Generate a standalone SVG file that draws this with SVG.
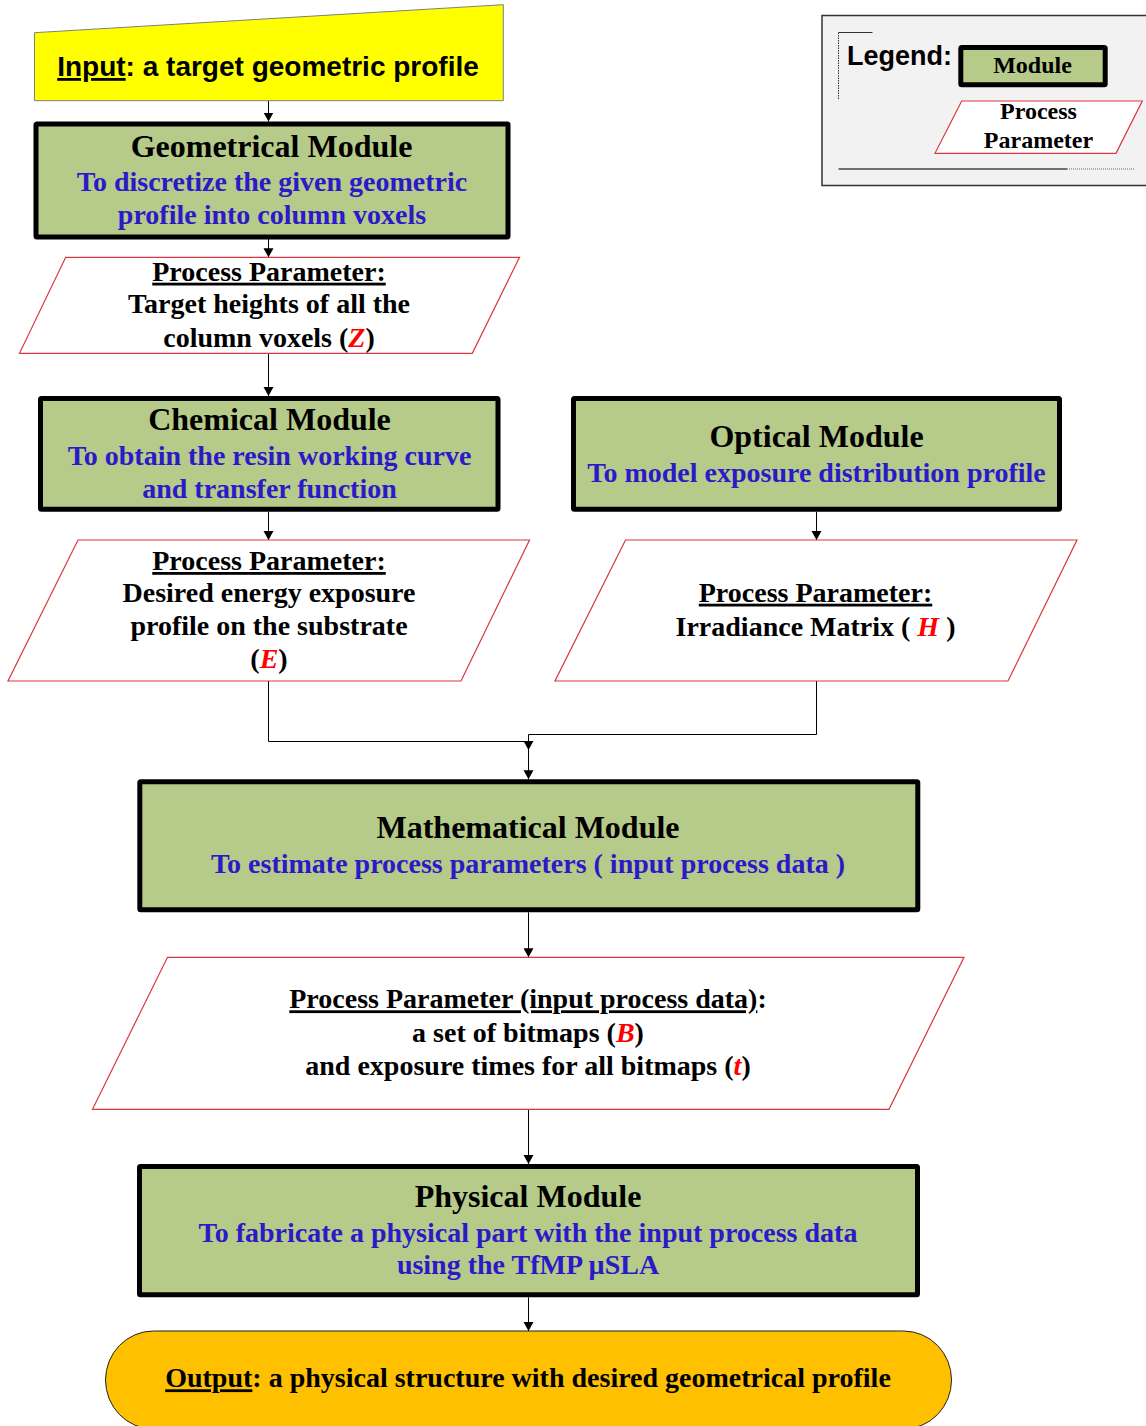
<svg xmlns="http://www.w3.org/2000/svg" width="1146" height="1426" viewBox="0 0 1146 1426">
  <defs>
    <marker id="arr" markerWidth="11" markerHeight="11" refX="9" refY="5" orient="auto" markerUnits="userSpaceOnUse">
      <path d="M0,0 L9,5 L0,10 z" fill="#000"/>
    </marker>
    <style>
      .module { fill: #b6ca8a; stroke: #000; stroke-width: 5; }
      .param { fill: #fff; stroke: #d9363e; stroke-width: 1.2; }
      .title { font-family: "Liberation Serif", "Times New Roman", serif; font-weight: bold; font-size: 32px; fill: #000; text-anchor: middle; }
      .desc { font-family: "Liberation Serif", "Times New Roman", serif; font-weight: bold; font-size: 28px; fill: #2a1ac8; text-anchor: middle; }
      .ptext { font-family: "Liberation Serif", "Times New Roman", serif; font-weight: bold; font-size: 28px; fill: #000; text-anchor: middle; }
      .var { fill: #f00; font-style: italic; }
      .ul { text-decoration: underline; }
      .conn { fill: none; stroke: #000; stroke-width: 1; }
    </style>
  </defs>
  <rect width="1146" height="1426" fill="#fff"/>

  <!-- legend -->
  <g id="legend">
    <rect x="822" y="15.5" width="330" height="170" fill="#f2f2f2" stroke="#333" stroke-width="1.5"/>
    <path d="M838.5,32.5 H872.5" stroke="#333" stroke-width="1"/>
    <path d="M838.5,32.5 V100" stroke="#333" stroke-width="1" stroke-dasharray="1.5,1"/>
    <text x="847" y="65" font-family="Liberation Sans, Arial, sans-serif" font-weight="bold" font-size="27px" fill="#000">Legend:</text>
    <rect class="module" x="960.8" y="47.5" width="144.4" height="37.3" rx="1"/>
    <text x="1032.5" y="72.7" font-family="Liberation Serif, Times New Roman, serif" font-weight="bold" font-size="24px" text-anchor="middle" fill="#000">Module</text>
    <polygon class="param" points="961.7,101 1142.3,101 1116,153.3 935,153.3"/>
    <text x="1038.5" y="119.3" font-family="Liberation Serif, Times New Roman, serif" font-weight="bold" font-size="24px" text-anchor="middle" fill="#000">Process</text>
    <text x="1038.5" y="148.3" font-family="Liberation Serif, Times New Roman, serif" font-weight="bold" font-size="24px" text-anchor="middle" fill="#000">Parameter</text>
    <path d="M838.5,169 H1067" stroke="#444" stroke-width="1.5"/>
    <path d="M1067,169 H1135" stroke="#666" stroke-width="1" stroke-dasharray="1,1"/>
  </g>

  <!-- connectors -->
  <g id="connectors">
    <path class="conn" d="M268.5,101 V121.5" marker-end="url(#arr)"/>
    <path class="conn" d="M268.5,239 V257.3" marker-end="url(#arr)"/>
    <path class="conn" d="M268.5,353.3 V396" marker-end="url(#arr)"/>
    <path class="conn" d="M268.5,511.7 V540" marker-end="url(#arr)"/>
    <path class="conn" d="M816.5,511.7 V540" marker-end="url(#arr)"/>
    <path class="conn" d="M816.5,681 V734.5 H528.5 V750" marker-end="url(#arr)"/>
    <path class="conn" d="M268.5,681 V741.5 H528.5 V779.3" marker-end="url(#arr)"/>
    <path class="conn" d="M528.5,912.3 V957.3" marker-end="url(#arr)"/>
    <path class="conn" d="M528.5,1109.3 V1164" marker-end="url(#arr)"/>
    <path class="conn" d="M528.5,1297.3 V1331" marker-end="url(#arr)"/>
  </g>

  <!-- input (manual input shape) -->
  <g id="input">
    <polygon points="34.5,32.7 503.3,4.7 503.3,100.7 34.5,100.7" fill="#ffff00" stroke="#7f7f7f" stroke-width="1"/>
    <text x="268" y="76" font-family="Liberation Sans, Arial, sans-serif" font-weight="bold" font-size="28px" text-anchor="middle" fill="#000"><tspan class="ul">Input</tspan>: a target geometric profile</text>
  </g>

  <!-- geometrical module -->
  <g id="geometrical-module">
    <rect class="module" x="36" y="124" width="472" height="113" rx="1"/>
    <text class="title" x="271.5" y="157">Geometrical Module</text>
    <text class="desc" x="272" y="190.5">To discretize the given geometric</text>
    <text class="desc" x="272" y="223.5">profile into column voxels</text>
  </g>

  <!-- parameter: target heights -->
  <g id="param-heights">
    <polygon class="param" points="65.7,257.3 519.5,257.3 472.3,353.3 19.5,353.3"/>
    <text class="ptext" x="269" y="280.7"><tspan class="ul">Process Parameter:</tspan></text>
    <text class="ptext" x="269" y="313.3">Target heights of all the</text>
    <text class="ptext" x="269" y="346.7">column voxels (<tspan class="var">Z</tspan>)</text>
  </g>

  <!-- chemical module -->
  <g id="chemical-module">
    <rect class="module" x="40.5" y="398.5" width="457.5" height="110.7" rx="1"/>
    <text class="title" x="269.5" y="429.5">Chemical Module</text>
    <text class="desc" x="269.5" y="465">To obtain the resin working curve</text>
    <text class="desc" x="269.5" y="498.3">and transfer function</text>
  </g>

  <!-- optical module -->
  <g id="optical-module">
    <rect class="module" x="573.5" y="398.5" width="486" height="110.7" rx="1"/>
    <text class="title" x="816.5" y="447.3">Optical Module</text>
    <text class="desc" x="816.5" y="481.7">To model exposure distribution profile</text>
  </g>

  <!-- parameter: energy exposure -->
  <g id="param-exposure">
    <polygon class="param" points="78,540 529.5,540 461,681 8,681"/>
    <text class="ptext" x="269" y="570"><tspan class="ul">Process Parameter:</tspan></text>
    <text class="ptext" x="269" y="601.7">Desired energy exposure</text>
    <text class="ptext" x="269" y="635">profile on the substrate</text>
    <text class="ptext" x="269" y="668">(<tspan class="var">E</tspan>)</text>
  </g>

  <!-- parameter: irradiance -->
  <g id="param-irradiance">
    <polygon class="param" points="625.5,540 1077,540 1008,681 555,681"/>
    <text class="ptext" x="815.5" y="601.7"><tspan class="ul">Process Parameter:</tspan></text>
    <text class="ptext" x="815.5" y="636">Irradiance Matrix ( <tspan class="var">H</tspan> )</text>
  </g>

  <!-- mathematical module -->
  <g id="mathematical-module">
    <rect class="module" x="139.8" y="781.8" width="778" height="128" rx="1"/>
    <text class="title" x="528" y="838.3">Mathematical Module</text>
    <text class="desc" x="528" y="873.3">To estimate process parameters ( input process data )</text>
  </g>

  <!-- parameter: input process data -->
  <g id="param-process-data">
    <polygon class="param" points="167.5,957.3 964,957.3 889,1109.3 92.5,1109.3"/>
    <text class="ptext" x="528" y="1008.3"><tspan class="ul">Process Parameter (input process data)</tspan>:</text>
    <text class="ptext" x="528" y="1041.7">a set of bitmaps (<tspan class="var">B</tspan>)</text>
    <text class="ptext" x="528" y="1075">and exposure times for all bitmaps (<tspan class="var">t</tspan>)</text>
  </g>

  <!-- physical module -->
  <g id="physical-module">
    <rect class="module" x="139.5" y="1166.5" width="778" height="128.3" rx="1"/>
    <text class="title" x="528" y="1206.7">Physical Module</text>
    <text class="desc" x="528" y="1241.7">To fabricate a physical part with the input process data</text>
    <text class="desc" x="528" y="1274">using the TfMP µSLA</text>
  </g>

  <!-- output -->
  <g id="output">
    <rect x="105.5" y="1331" width="846" height="98" rx="48" ry="49" fill="#ffc000" stroke="#222" stroke-width="1"/>
    <text class="ptext" x="528" y="1387.3"><tspan class="ul">Output</tspan>: a physical structure with desired geometrical profile</text>
  </g>
</svg>
